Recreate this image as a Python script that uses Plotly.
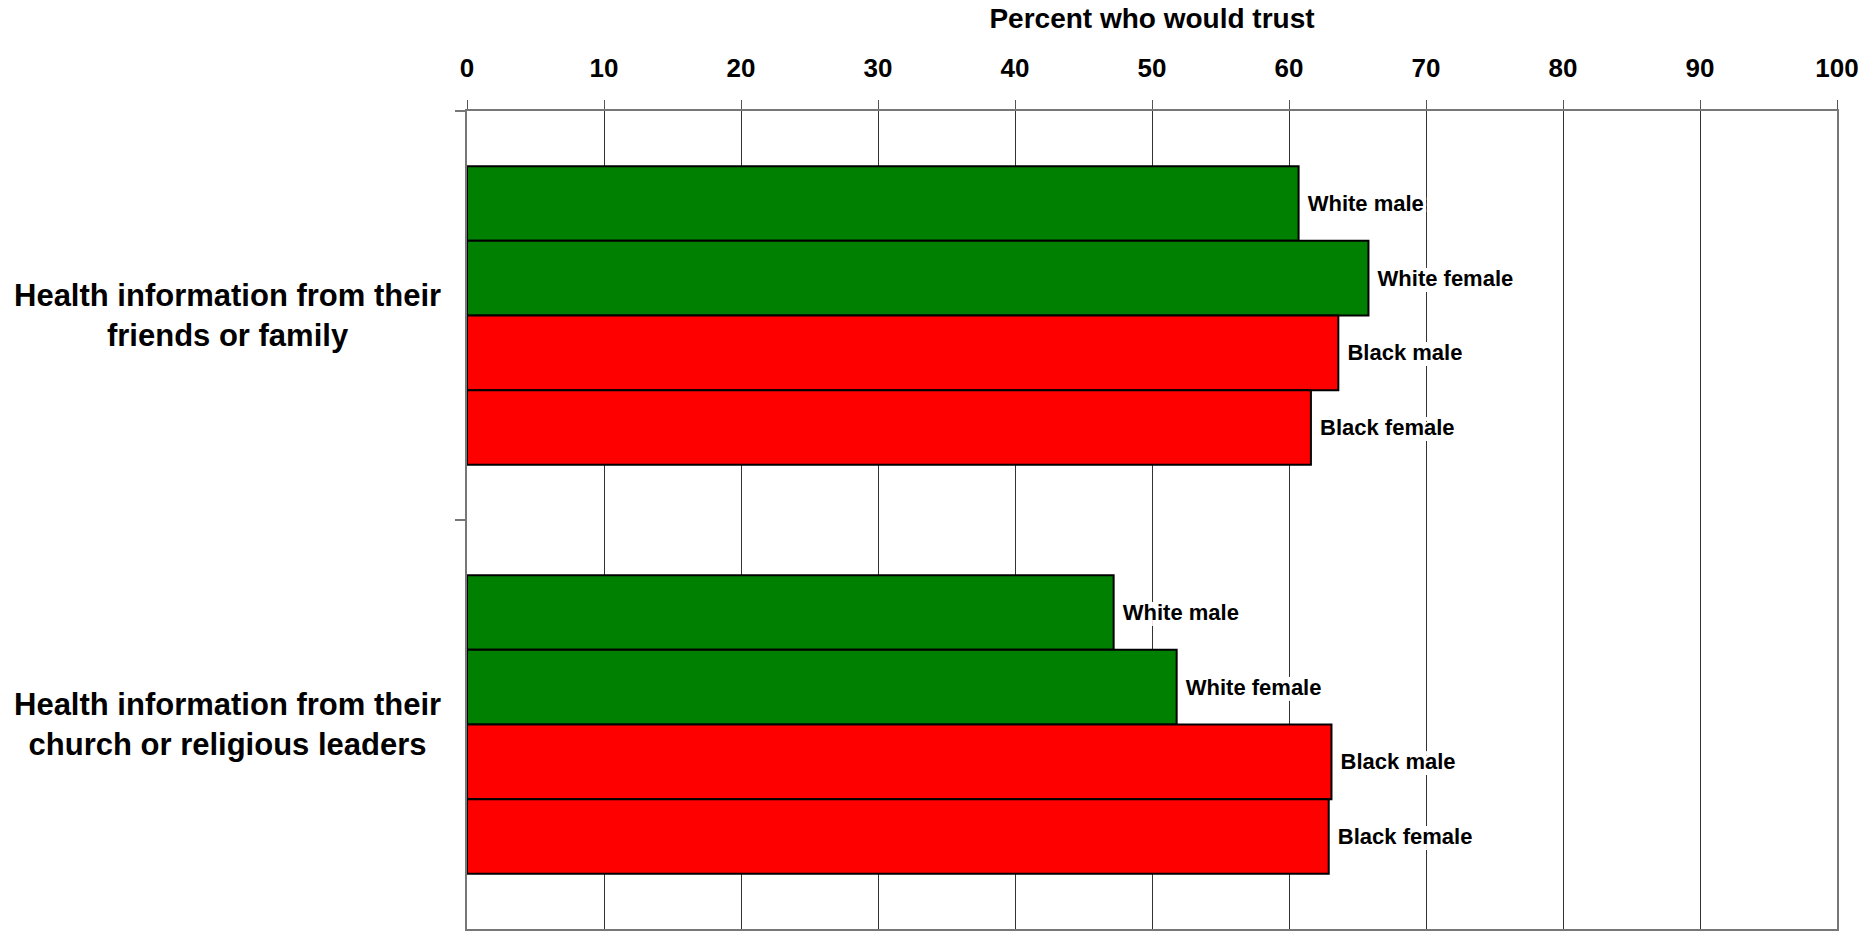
import plotly.graph_objects as go

categories = [
    "Health information from their<br>friends or family",
    "Health information from their<br>church or religious leaders",
]
series_names = ["White male", "White female", "Black male", "Black female"]
white_male = [60.7, 47.2]
white_female = [65.8, 51.8]
black_male = [63.6, 63.1]
black_female = [61.6, 62.9]
series_values = [white_male, white_female, black_male, black_female]
series_colors = ["#008000", "#008000", "#FF0000", "#FF0000"]
x_ticks = list(range(0, 101, 10))
x_title = "Percent who would trust"

FONT = "Arial, Liberation Sans, sans-serif"
HALO = ("0 6px 0 white, 0 -6px 0 white, 3px 0 0 white, -3px 0 0 white, "
        "3px 6px 0 white, -3px 6px 0 white, 3px -6px 0 white, -3px -6px 0 white")

fig = go.Figure()
for name, vals, col in zip(series_names, series_values, series_colors):
    fig.add_trace(go.Bar(
        name=name,
        y=categories,
        x=vals,
        orientation="h",
        marker=dict(color=col, line=dict(color="black", width=2)),
        text=["\u00a0" + name] * len(vals),
        textposition="outside",
        constraintext="none",
        cliponaxis=False,
        textfont=dict(family=FONT, size=22, color="black", weight="bold", shadow=HALO),
        hoverinfo="x+y+name",
    ))

for cat in categories:
    fig.add_annotation(
        text=cat, xref="paper", yref="y", x=-0.1745, y=cat,
        xanchor="center", yanchor="middle", align="center", showarrow=False,
        font=dict(family=FONT, size=31, color="black", weight="bold"),
    )

fig.update_layout(
    width=1873, height=935,
    margin=dict(l=467, r=36, t=111, b=4),
    paper_bgcolor="white", plot_bgcolor="white",
    barmode="group", bargap=0.27, bargroupgap=0,
    showlegend=False,
    font=dict(family=FONT, color="black"),
)
fig.update_xaxes(
    side="top", range=[0, 100], tickvals=x_ticks,
    ticks="outside", ticklen=9, tickwidth=1, tickcolor="#555555",
    ticklabelstandoff=13,
    showline=True, linecolor="#777777", linewidth=2, mirror=True,
    showgrid=True, gridcolor="#333333", gridwidth=1,
    zeroline=False,
    tickfont=dict(family=FONT, size=26, color="black", weight="bold"),
    title=dict(text=x_title, font=dict(family=FONT, size=28, color="black", weight="bold"), standoff=16),
)
fig.update_yaxes(
    autorange="reversed", showticklabels=False,
    ticks="outside", ticklen=10, tickwidth=2, tickcolor="#777777",
    tickson="boundaries",
    showline=True, linecolor="#777777", linewidth=2, mirror=True,
    showgrid=False, zeroline=False,
)

fig.write_html("out.html", config={"displayModeBar": False},
               post_script="document.body.style.margin='0';")
